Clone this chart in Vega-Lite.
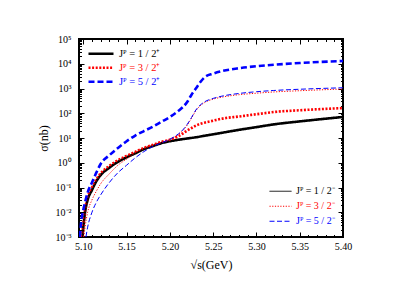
{
"$schema": "https://vega.github.io/schema/vega-lite/v6.json",
"width": 264, "height": 198,
"autosize": {"type": "none"},
"padding": {"left": 79, "top": 39, "right": 53, "bottom": 69},
"config": {
 "view": {"stroke": "black", "strokeWidth": 2},
 "font": "Liberation Serif",
 "axis": {"domain": false, "grid": false, "labelFont": "Liberation Serif", "labelFontSize": 10, "labelColor": "black", "tickColor": "black", "tickWidth": 1, "titleFont": "Liberation Serif", "titleFontWeight": "normal", "titleFontSize": 12, "titleColor": "black", "labelOverlap": false, "labelFlush": false},
 "legend": {"title": null, "padding": 0, "symbolType": "stroke", "labelFont": "Liberation Serif", "labelFontSize": 10.5, "rowPadding": 0}
},
"datasets": {"d": [
{"x":5.099,"y":0.001,"s":"Jᴾ = 1 / 2⁺"},{"x":5.1,"y":0.00251,"s":"Jᴾ = 1 / 2⁺"},{"x":5.102,"y":0.01,"s":"Jᴾ = 1 / 2⁺"},{"x":5.105,"y":0.0316,"s":"Jᴾ = 1 / 2⁺"},{"x":5.11,"y":0.0794,"s":"Jᴾ = 1 / 2⁺"},{"x":5.115,"y":0.178,"s":"Jᴾ = 1 / 2⁺"},{"x":5.12,"y":0.316,"s":"Jᴾ = 1 / 2⁺"},{"x":5.13,"y":0.631,"s":"Jᴾ = 1 / 2⁺"},{"x":5.14,"y":1.096,"s":"Jᴾ = 1 / 2⁺"},{"x":5.15,"y":1.66,"s":"Jᴾ = 1 / 2⁺"},{"x":5.16,"y":2.4,"s":"Jᴾ = 1 / 2⁺"},{"x":5.17,"y":3.55,"s":"Jᴾ = 1 / 2⁺"},{"x":5.18,"y":4.68,"s":"Jᴾ = 1 / 2⁺"},{"x":5.19,"y":6.17,"s":"Jᴾ = 1 / 2⁺"},{"x":5.2,"y":7.41,"s":"Jᴾ = 1 / 2⁺"},{"x":5.21,"y":8.51,"s":"Jᴾ = 1 / 2⁺"},{"x":5.22,"y":9.55,"s":"Jᴾ = 1 / 2⁺"},{"x":5.23,"y":10.7,"s":"Jᴾ = 1 / 2⁺"},{"x":5.24,"y":12.3,"s":"Jᴾ = 1 / 2⁺"},{"x":5.25,"y":14.1,"s":"Jᴾ = 1 / 2⁺"},{"x":5.26,"y":16.2,"s":"Jᴾ = 1 / 2⁺"},{"x":5.28,"y":21.4,"s":"Jᴾ = 1 / 2⁺"},{"x":5.3,"y":27.5,"s":"Jᴾ = 1 / 2⁺"},{"x":5.32,"y":35.5,"s":"Jᴾ = 1 / 2⁺"},{"x":5.35,"y":46.8,"s":"Jᴾ = 1 / 2⁺"},{"x":5.4,"y":70.8,"s":"Jᴾ = 1 / 2⁺"},
{"x":5.0985,"y":0.001,"s":"Jᴾ = 3 / 2⁺"},{"x":5.1,"y":0.00316,"s":"Jᴾ = 3 / 2⁺"},{"x":5.102,"y":0.0126,"s":"Jᴾ = 3 / 2⁺"},{"x":5.105,"y":0.0398,"s":"Jᴾ = 3 / 2⁺"},{"x":5.11,"y":0.1,"s":"Jᴾ = 3 / 2⁺"},{"x":5.115,"y":0.209,"s":"Jᴾ = 3 / 2⁺"},{"x":5.12,"y":0.372,"s":"Jᴾ = 3 / 2⁺"},{"x":5.13,"y":0.741,"s":"Jᴾ = 3 / 2⁺"},{"x":5.14,"y":1.26,"s":"Jᴾ = 3 / 2⁺"},{"x":5.15,"y":1.9,"s":"Jᴾ = 3 / 2⁺"},{"x":5.16,"y":2.75,"s":"Jᴾ = 3 / 2⁺"},{"x":5.17,"y":3.98,"s":"Jᴾ = 3 / 2⁺"},{"x":5.18,"y":5.25,"s":"Jᴾ = 3 / 2⁺"},{"x":5.19,"y":6.92,"s":"Jᴾ = 3 / 2⁺"},{"x":5.2,"y":8.51,"s":"Jᴾ = 3 / 2⁺"},{"x":5.21,"y":12.0,"s":"Jᴾ = 3 / 2⁺"},{"x":5.22,"y":19.9,"s":"Jᴾ = 3 / 2⁺"},{"x":5.225,"y":25.1,"s":"Jᴾ = 3 / 2⁺"},{"x":5.23,"y":31.6,"s":"Jᴾ = 3 / 2⁺"},{"x":5.235,"y":37.2,"s":"Jᴾ = 3 / 2⁺"},{"x":5.24,"y":41.7,"s":"Jᴾ = 3 / 2⁺"},{"x":5.25,"y":50.1,"s":"Jᴾ = 3 / 2⁺"},{"x":5.26,"y":60.3,"s":"Jᴾ = 3 / 2⁺"},{"x":5.28,"y":74.1,"s":"Jᴾ = 3 / 2⁺"},{"x":5.3,"y":91.2,"s":"Jᴾ = 3 / 2⁺"},{"x":5.32,"y":112,"s":"Jᴾ = 3 / 2⁺"},{"x":5.35,"y":132,"s":"Jᴾ = 3 / 2⁺"},{"x":5.4,"y":162,"s":"Jᴾ = 3 / 2⁺"},
{"x":5.096,"y":0.001,"s":"Jᴾ = 5 / 2⁺"},{"x":5.0975,"y":0.004,"s":"Jᴾ = 5 / 2⁺"},{"x":5.1,"y":0.0126,"s":"Jᴾ = 5 / 2⁺"},{"x":5.102,"y":0.0251,"s":"Jᴾ = 5 / 2⁺"},{"x":5.105,"y":0.0631,"s":"Jᴾ = 5 / 2⁺"},{"x":5.11,"y":0.158,"s":"Jᴾ = 5 / 2⁺"},{"x":5.115,"y":0.398,"s":"Jᴾ = 5 / 2⁺"},{"x":5.12,"y":0.891,"s":"Jᴾ = 5 / 2⁺"},{"x":5.13,"y":2.0,"s":"Jᴾ = 5 / 2⁺"},{"x":5.14,"y":3.98,"s":"Jᴾ = 5 / 2⁺"},{"x":5.15,"y":7.41,"s":"Jᴾ = 5 / 2⁺"},{"x":5.16,"y":12.6,"s":"Jᴾ = 5 / 2⁺"},{"x":5.17,"y":19.1,"s":"Jᴾ = 5 / 2⁺"},{"x":5.18,"y":28.2,"s":"Jᴾ = 5 / 2⁺"},{"x":5.19,"y":44.7,"s":"Jᴾ = 5 / 2⁺"},{"x":5.2,"y":70.8,"s":"Jᴾ = 5 / 2⁺"},{"x":5.21,"y":126,"s":"Jᴾ = 5 / 2⁺"},{"x":5.215,"y":178,"s":"Jᴾ = 5 / 2⁺"},{"x":5.22,"y":282,"s":"Jᴾ = 5 / 2⁺"},{"x":5.225,"y":562,"s":"Jᴾ = 5 / 2⁺"},{"x":5.23,"y":1000,"s":"Jᴾ = 5 / 2⁺"},{"x":5.235,"y":1778,"s":"Jᴾ = 5 / 2⁺"},{"x":5.24,"y":2818,"s":"Jᴾ = 5 / 2⁺"},{"x":5.25,"y":3981,"s":"Jᴾ = 5 / 2⁺"},{"x":5.26,"y":5012,"s":"Jᴾ = 5 / 2⁺"},{"x":5.28,"y":6607,"s":"Jᴾ = 5 / 2⁺"},{"x":5.3,"y":7943,"s":"Jᴾ = 5 / 2⁺"},{"x":5.32,"y":9120,"s":"Jᴾ = 5 / 2⁺"},{"x":5.35,"y":10715,"s":"Jᴾ = 5 / 2⁺"},{"x":5.4,"y":12882,"s":"Jᴾ = 5 / 2⁺"},
{"x":5.099,"y":0.001,"s":"Jᴾ = 1 / 2⁻"},{"x":5.1,"y":0.00251,"s":"Jᴾ = 1 / 2⁻"},{"x":5.102,"y":0.01,"s":"Jᴾ = 1 / 2⁻"},{"x":5.105,"y":0.0316,"s":"Jᴾ = 1 / 2⁻"},{"x":5.11,"y":0.0794,"s":"Jᴾ = 1 / 2⁻"},{"x":5.115,"y":0.178,"s":"Jᴾ = 1 / 2⁻"},{"x":5.12,"y":0.316,"s":"Jᴾ = 1 / 2⁻"},{"x":5.13,"y":0.631,"s":"Jᴾ = 1 / 2⁻"},{"x":5.14,"y":1.096,"s":"Jᴾ = 1 / 2⁻"},{"x":5.15,"y":1.66,"s":"Jᴾ = 1 / 2⁻"},{"x":5.16,"y":2.4,"s":"Jᴾ = 1 / 2⁻"},{"x":5.17,"y":3.55,"s":"Jᴾ = 1 / 2⁻"},{"x":5.18,"y":4.68,"s":"Jᴾ = 1 / 2⁻"},{"x":5.19,"y":6.17,"s":"Jᴾ = 1 / 2⁻"},{"x":5.2,"y":7.41,"s":"Jᴾ = 1 / 2⁻"},{"x":5.21,"y":8.51,"s":"Jᴾ = 1 / 2⁻"},{"x":5.22,"y":9.55,"s":"Jᴾ = 1 / 2⁻"},{"x":5.23,"y":10.7,"s":"Jᴾ = 1 / 2⁻"},{"x":5.24,"y":12.3,"s":"Jᴾ = 1 / 2⁻"},{"x":5.25,"y":14.1,"s":"Jᴾ = 1 / 2⁻"},{"x":5.26,"y":16.2,"s":"Jᴾ = 1 / 2⁻"},{"x":5.28,"y":21.4,"s":"Jᴾ = 1 / 2⁻"},{"x":5.3,"y":27.5,"s":"Jᴾ = 1 / 2⁻"},{"x":5.32,"y":35.5,"s":"Jᴾ = 1 / 2⁻"},{"x":5.35,"y":46.8,"s":"Jᴾ = 1 / 2⁻"},{"x":5.4,"y":70.8,"s":"Jᴾ = 1 / 2⁻"},
{"x":5.1005,"y":0.001,"s":"Jᴾ = 3 / 2⁻"},{"x":5.102,"y":0.0025,"s":"Jᴾ = 3 / 2⁻"},{"x":5.105,"y":0.01,"s":"Jᴾ = 3 / 2⁻"},{"x":5.11,"y":0.0316,"s":"Jᴾ = 3 / 2⁻"},{"x":5.115,"y":0.0708,"s":"Jᴾ = 3 / 2⁻"},{"x":5.12,"y":0.141,"s":"Jᴾ = 3 / 2⁻"},{"x":5.13,"y":0.355,"s":"Jᴾ = 3 / 2⁻"},{"x":5.14,"y":0.794,"s":"Jᴾ = 3 / 2⁻"},{"x":5.15,"y":1.41,"s":"Jᴾ = 3 / 2⁻"},{"x":5.16,"y":2.51,"s":"Jᴾ = 3 / 2⁻"},{"x":5.17,"y":3.8,"s":"Jᴾ = 3 / 2⁻"},{"x":5.18,"y":5.01,"s":"Jᴾ = 3 / 2⁻"},{"x":5.19,"y":6.61,"s":"Jᴾ = 3 / 2⁻"},{"x":5.2,"y":8.91,"s":"Jᴾ = 3 / 2⁻"},{"x":5.21,"y":14.1,"s":"Jᴾ = 3 / 2⁻"},{"x":5.215,"y":20,"s":"Jᴾ = 3 / 2⁻"},{"x":5.22,"y":33.1,"s":"Jᴾ = 3 / 2⁻"},{"x":5.225,"y":63.1,"s":"Jᴾ = 3 / 2⁻"},{"x":5.23,"y":126,"s":"Jᴾ = 3 / 2⁻"},{"x":5.235,"y":200,"s":"Jᴾ = 3 / 2⁻"},{"x":5.24,"y":269,"s":"Jᴾ = 3 / 2⁻"},{"x":5.25,"y":372,"s":"Jᴾ = 3 / 2⁻"},{"x":5.26,"y":447,"s":"Jᴾ = 3 / 2⁻"},{"x":5.28,"y":562,"s":"Jᴾ = 3 / 2⁻"},{"x":5.3,"y":646,"s":"Jᴾ = 3 / 2⁻"},{"x":5.32,"y":724,"s":"Jᴾ = 3 / 2⁻"},{"x":5.35,"y":813,"s":"Jᴾ = 3 / 2⁻"},{"x":5.4,"y":955,"s":"Jᴾ = 3 / 2⁻"},
{"x":5.103,"y":0.001,"s":"Jᴾ = 5 / 2⁻"},{"x":5.105,"y":0.0025,"s":"Jᴾ = 5 / 2⁻"},{"x":5.11,"y":0.01,"s":"Jᴾ = 5 / 2⁻"},{"x":5.115,"y":0.0251,"s":"Jᴾ = 5 / 2⁻"},{"x":5.12,"y":0.0501,"s":"Jᴾ = 5 / 2⁻"},{"x":5.13,"y":0.158,"s":"Jᴾ = 5 / 2⁻"},{"x":5.14,"y":0.398,"s":"Jᴾ = 5 / 2⁻"},{"x":5.15,"y":0.794,"s":"Jᴾ = 5 / 2⁻"},{"x":5.16,"y":1.58,"s":"Jᴾ = 5 / 2⁻"},{"x":5.17,"y":2.82,"s":"Jᴾ = 5 / 2⁻"},{"x":5.18,"y":4.47,"s":"Jᴾ = 5 / 2⁻"},{"x":5.19,"y":6.31,"s":"Jᴾ = 5 / 2⁻"},{"x":5.2,"y":8.91,"s":"Jᴾ = 5 / 2⁻"},{"x":5.21,"y":14.8,"s":"Jᴾ = 5 / 2⁻"},{"x":5.215,"y":21.4,"s":"Jᴾ = 5 / 2⁻"},{"x":5.22,"y":35.5,"s":"Jᴾ = 5 / 2⁻"},{"x":5.225,"y":67.6,"s":"Jᴾ = 5 / 2⁻"},{"x":5.23,"y":135,"s":"Jᴾ = 5 / 2⁻"},{"x":5.235,"y":214,"s":"Jᴾ = 5 / 2⁻"},{"x":5.24,"y":288,"s":"Jᴾ = 5 / 2⁻"},{"x":5.25,"y":398,"s":"Jᴾ = 5 / 2⁻"},{"x":5.26,"y":490,"s":"Jᴾ = 5 / 2⁻"},{"x":5.28,"y":631,"s":"Jᴾ = 5 / 2⁻"},{"x":5.3,"y":741,"s":"Jᴾ = 5 / 2⁻"},{"x":5.32,"y":832,"s":"Jᴾ = 5 / 2⁻"},{"x":5.35,"y":933,"s":"Jᴾ = 5 / 2⁻"},{"x":5.4,"y":1072,"s":"Jᴾ = 5 / 2⁻"}
]},
"data": {"name": "d"},
"layer": [
 {
  "transform": [{"filter": "indexof(datum.s, '⁺') >= 0"}],
  "mark": {"type": "line", "strokeWidth": 2.6, "interpolate": "monotone", "clip": true},
  "encoding": {
   "x": {"field": "x", "type": "quantitative", "scale": {"domain": [5.095, 5.4], "nice": false, "zero": false},
     "axis": {"orient": "bottom", "title": "√s(GeV)", "titlePadding": 6,
       "values": [5.1,5.11,5.12,5.13,5.14,5.15,5.16,5.17,5.18,5.19,5.2,5.21,5.22,5.23,5.24,5.25,5.26,5.27,5.28,5.29,5.3,5.31,5.32,5.33,5.34,5.35,5.36,5.37,5.38,5.39,5.4],
       "labelExpr": "abs(datum.value*20-round(datum.value*20))<0.01 ? format(datum.value, '.2f') : ''",
       "tickSize": {"condition": {"test": "abs(datum.value*20-round(datum.value*20))<0.01", "value": -5}, "value": -2.5},
       "labelPadding": 9}},
   "y": {"field": "y", "type": "quantitative", "scale": {"type": "log", "domain": [0.001, 100000], "nice": false},
     "axis": {"orient": "left", "title": "σ(nb)", "titlePadding": 5,
       "values": [0.001,0.002,0.003,0.004,0.005,0.006,0.007,0.008,0.009,0.01,0.02,0.03,0.04,0.05,0.06,0.07,0.08,0.09,0.1,0.2,0.3,0.4,0.5,0.6,0.7,0.8,0.9,1,2,3,4,5,6,7,8,9,10,20,30,40,50,60,70,80,90,100,200,300,400,500,600,700,800,900,1000,2000,3000,4000,5000,6000,7000,8000,9000,10000,20000,30000,40000,50000,60000,70000,80000,90000,100000],
       "labelExpr": "abs(log(datum.value)/LN10-round(log(datum.value)/LN10))<0.01 ? '10' + ['⁻³','⁻²','⁻¹','⁰','¹','²','³','⁴','⁵'][round(log(datum.value)/LN10)+3] : ''",
       "tickSize": {"condition": {"test": "abs(log(datum.value)/LN10-round(log(datum.value)/LN10))<0.01", "value": -5}, "value": -2.5},
       "labelPadding": 13}},
   "color": {"field": "s", "type": "nominal", "scale": {"domain": ["Jᴾ = 1 / 2⁺", "Jᴾ = 3 / 2⁺", "Jᴾ = 5 / 2⁺"], "range": ["#000000", "#ff0000", "#0000ff"]},
     "legend": {"orient": "top-left", "offset": 8, "symbolSize": 625, "symbolStrokeWidth": 2.6, "clipHeight": 13.5,
       "encode": {"labels": {"update": {"fill": {"scale": "color", "field": "value"}}}, "symbols": {"update": {"strokeDash": {"scale": "strokeDash", "field": "value"}}}}}},
   "strokeDash": {"field": "s", "type": "nominal", "scale": {"domain": ["Jᴾ = 1 / 2⁺", "Jᴾ = 3 / 2⁺", "Jᴾ = 5 / 2⁺", "Jᴾ = 1 / 2⁻", "Jᴾ = 3 / 2⁻", "Jᴾ = 5 / 2⁻"], "range": [[1,0],[2,1.6],[6,3],[1,0],[1.2,1.5],[5,2.5]]}, "legend": null}
  }
 },
 {
  "transform": [{"filter": "indexof(datum.s, '⁻') >= 0"}],
  "mark": {"type": "line", "strokeWidth": 1, "interpolate": "monotone", "clip": true},
  "encoding": {
   "x": {"field": "x", "type": "quantitative", "scale": {"domain": [5.095, 5.4], "nice": false, "zero": false},
     "axis": {"orient": "top", "title": null, "labels": false,
       "values": [5.1,5.11,5.12,5.13,5.14,5.15,5.16,5.17,5.18,5.19,5.2,5.21,5.22,5.23,5.24,5.25,5.26,5.27,5.28,5.29,5.3,5.31,5.32,5.33,5.34,5.35,5.36,5.37,5.38,5.39,5.4],
       "tickSize": {"condition": {"test": "abs(datum.value*20-round(datum.value*20))<0.01", "value": -5}, "value": -2.5}}},
   "y": {"field": "y", "type": "quantitative", "scale": {"type": "log", "domain": [0.001, 100000], "nice": false},
     "axis": {"orient": "right", "title": null, "labels": false,
       "values": [0.001,0.002,0.003,0.004,0.005,0.006,0.007,0.008,0.009,0.01,0.02,0.03,0.04,0.05,0.06,0.07,0.08,0.09,0.1,0.2,0.3,0.4,0.5,0.6,0.7,0.8,0.9,1,2,3,4,5,6,7,8,9,10,20,30,40,50,60,70,80,90,100,200,300,400,500,600,700,800,900,1000,2000,3000,4000,5000,6000,7000,8000,9000,10000,20000,30000,40000,50000,60000,70000,80000,90000,100000],
       "tickSize": {"condition": {"test": "abs(log(datum.value)/LN10-round(log(datum.value)/LN10))<0.01", "value": -5}, "value": -2.5}}},
   "stroke": {"field": "s", "type": "nominal", "scale": {"domain": ["Jᴾ = 1 / 2⁻", "Jᴾ = 3 / 2⁻", "Jᴾ = 5 / 2⁻"], "range": ["#000000", "#ff0000", "#0000ff"]},
     "legend": {"orient": "bottom-right", "offset": 8, "symbolSize": 484, "symbolStrokeWidth": 1, "clipHeight": 14.5, "labelFontSize": 10,
       "encode": {"labels": {"update": {"fill": {"scale": "stroke", "field": "value"}}}, "symbols": {"update": {"strokeDash": {"scale": "strokeDash", "field": "value"}}}}}},
   "strokeDash": {"field": "s", "type": "nominal", "legend": null}
  }
 }
],
"resolve": {"axis": {"x": "independent", "y": "independent"}}
}
